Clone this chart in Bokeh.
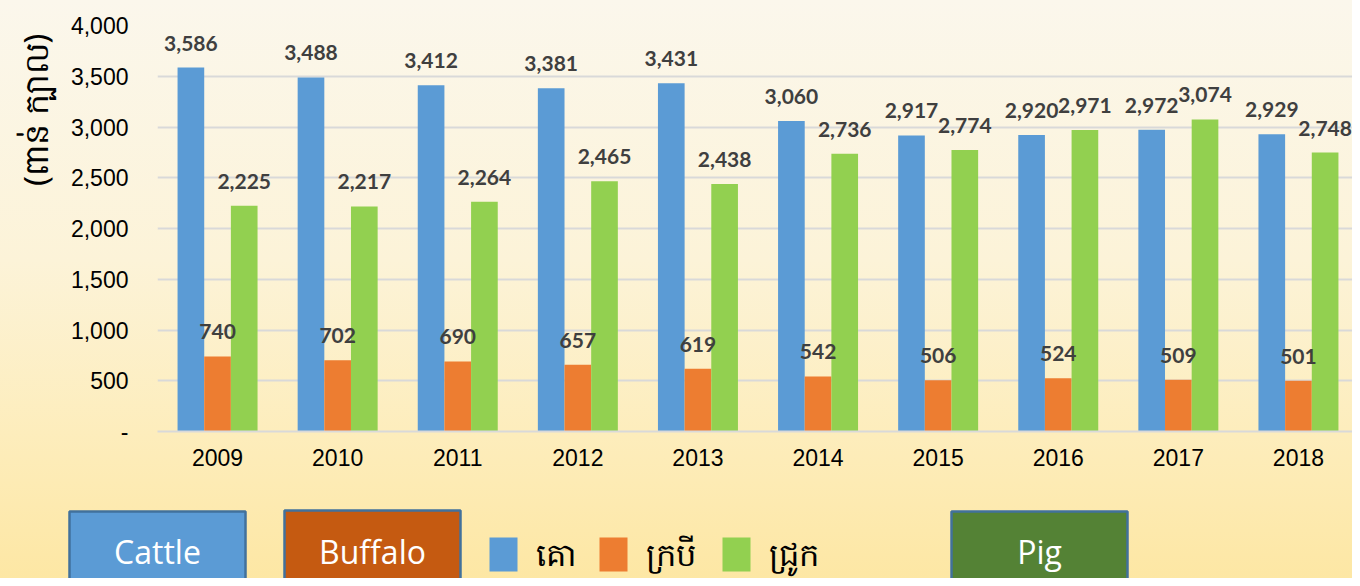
from bokeh.plotting import figure
from bokeh.models import ColumnDataSource, Range1d, FixedTicker, LabelSet, Title
from bokeh.transform import dodge
from bokeh.layouts import column
from bokeh.embed import file_html
from bokeh.resources import INLINE
from bokeh.core.properties import value

# ---------------- data ----------------
years = ["2009", "2010", "2011", "2012", "2013", "2014", "2015", "2016", "2017", "2018"]
cattle = [3586, 3488, 3412, 3381, 3431, 3060, 2917, 2920, 2972, 2929]
buffalo = [740, 702, 690, 657, 619, 542, 506, 524, 509, 501]
pig = [2225, 2217, 2264, 2465, 2438, 2736, 2774, 2971, 3074, 2748]

y_ticks = [0, 500, 1000, 1500, 2000, 2500, 3000, 3500, 4000]
y_tick_labels = ["-", "500", "1,000", "1,500", "2,000", "2,500", "3,000", "3,500", "4,000"]
y_axis_title = "(ពាន់ ក្បាល)"
legend_km = ["គោ", "ក្របី", "ជ្រូក"]
box_labels = ["Cattle", "Buffalo", "Pig"]

series_names = ["cattle", "buffalo", "pig"]
series_colors = ["#5b9bd5", "#ed7d31", "#92d050"]
box_colors = ["#5b9bd5", "#c55a11", "#548235"]

# ---------------- main chart ----------------
xi = list(range(len(years)))
src = ColumnDataSource(dict(
    x=xi, cattle=cattle, buffalo=buffalo, pig=pig,
    cattle_lbl=[f"{v:,}" for v in cattle],
    buffalo_lbl=[f"{v:,}" for v in buffalo],
    pig_lbl=[f"{v:,}" for v in pig],
))

W, H1, H2 = 1352, 482, 96
left_b = 157
cat_px = 120.1
x_end = -0.5 + (W - left_b) / cat_px

p = figure(x_range=Range1d(-0.5, x_end), y_range=Range1d(0, 4000),
           width=W, height=H1, output_backend="svg", toolbar_location=None,
           min_border_left=left_b, min_border_right=0, min_border_top=25, min_border_bottom=51,
           background_fill_alpha=0, border_fill_alpha=0, outline_line_color=None)
p.frame_align = False

bw = 0.222
offsets = [-bw, 0.0, bw]
for name, col, off in zip(series_names, series_colors, offsets):
    p.vbar(x=dodge("x", off), top=name, width=bw, source=src,
           fill_color=col, line_color=None)
    p.add_layout(LabelSet(x=dodge("x", off), y=name, text=name + "_lbl",
                          source=src, y_offset=17, text_align="center", text_baseline="alphabetic",
                          text_font=value("Lato"), text_font_style="bold",
                          text_font_size="21px", text_color="#3f3f3f"))

p.xgrid.grid_line_color = None
p.ygrid.grid_line_color = "#d9d9d9"
p.ygrid.grid_line_width = 2
p.ygrid.ticker = FixedTicker(ticks=y_ticks)

p.yaxis.ticker = FixedTicker(ticks=y_ticks)
p.yaxis.major_label_overrides = {t: l for t, l in zip(y_ticks, y_tick_labels)}
p.yaxis.axis_line_color = None
p.yaxis.major_tick_line_color = None
p.yaxis.minor_tick_line_color = None
p.yaxis.major_tick_out = 0
p.yaxis.major_tick_in = 0
p.yaxis.minor_tick_out = 0
p.yaxis.major_label_standoff = 29
p.yaxis.major_label_text_font = "Liberation Sans"
p.yaxis.major_label_text_font_size = "23px"
p.yaxis.major_label_text_color = "#000000"

p.xaxis.ticker = FixedTicker(ticks=xi)
p.xaxis.major_label_overrides = {i: y for i, y in zip(xi, years)}
p.xaxis.axis_line_color = "#d9d9d9"
p.xaxis.axis_line_width = 2
p.xaxis.major_tick_line_color = None
p.xaxis.minor_tick_line_color = None
p.xaxis.major_tick_out = 0
p.xaxis.major_tick_in = 0
p.xaxis.minor_tick_out = 0
p.xaxis.major_label_standoff = 17
p.xaxis.major_label_text_font = "Liberation Sans"
p.xaxis.major_label_text_font_size = "23px"
p.xaxis.major_label_text_color = "#000000"

p.add_layout(Title(text=y_axis_title, align="right", offset=8, standoff=20,
                   text_font="Noto Sans", text_font_size="33px", text_font_style="normal",
                   text_color="#000000"), "left")

# ---------------- bottom strip (boxes + legend) ----------------
q = figure(x_range=Range1d(0, W), y_range=Range1d(H1 + H2, H1), width=W, height=H2,
           output_backend="svg", toolbar_location=None, min_border=0,
           background_fill_alpha=0, border_fill_alpha=0, outline_line_color=None)
q.frame_align = False
q.axis.visible = False
q.grid.visible = False

box_left = [69, 284, 951]
box_top = [511, 510, 511]
box_w = 176
q.quad(left=box_left, right=[b + box_w for b in box_left], top=box_top, bottom=[620] * 3,
       fill_color=box_colors, line_color="#41719c", line_width=2.5)
q.text(x=[b + box_w / 2 for b in box_left], y=[551, 551, 551], text=box_labels,
       text_align="center", text_baseline="middle", text_color="#ffffff",
       text_font=value("Open Sans"), text_font_size="32px")

sq_left = [489, 599, 722]
q.quad(left=sq_left, right=[s + 28 for s in sq_left], top=[537] * 3, bottom=[571] * 3,
       fill_color=series_colors, line_color=None)
q.text(x=[s + 46 for s in sq_left], y=[553] * 3, text=legend_km,
       text_align="left", text_baseline="middle", text_color="#000000",
       text_font=value("Noto Sans"), text_font_size="32px")

layout = column(p, q, spacing=0,
                styles={"background": "linear-gradient(180deg, #fbf7ec 0%, #fcf3d8 45%, #fdedbc 75%, #fde7a4 100%)"})

open("out.html", "w").write(file_html(layout, INLINE))
